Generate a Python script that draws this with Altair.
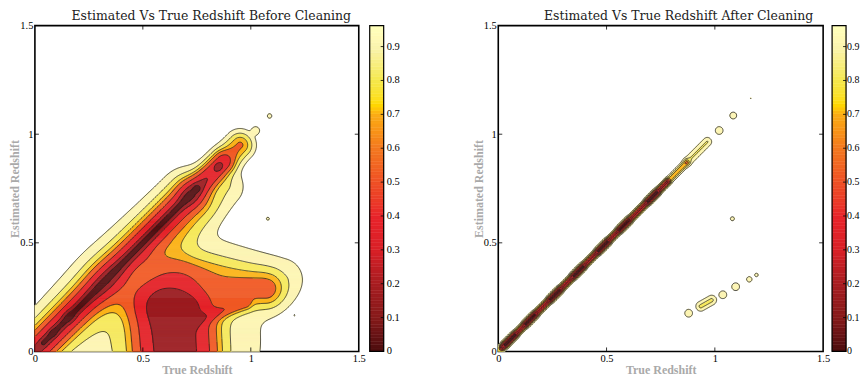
import numpy as np
import pandas as pd
import altair as alt
from collections import defaultdict, deque

alt.data_transformers.disable_max_rows()

# ---------------- values ----------------
AXIS_TICKS = [0, 0.5, 1, 1.5]
FRAME_TICKS = [0.5, 1.0]
LEVELS = [0.1, 0.2, 0.4, 0.6, 0.72, 0.85, 0.95]
BAND_COLORS = ["#531012", "#9b1c20", "#e42228", "#f05a24", "#fbb316", "#f6e95c", "#fdf5b2"]
CB_STOPS = [0.0, 0.1, 0.2, 0.3, 0.4, 0.5, 0.6, 0.7, 0.73, 0.8, 0.9, 0.962]
CB_COLORS = ["#4b0c0c", "#861a1a", "#a81c20", "#d92027", "#e8232a", "#ef5025",
             "#f3781f", "#fbad16", "#ffdc00", "#f5e84a", "#faf4b0", "#ffffff"]
CB_TICKS = [0, 0.1, 0.2, 0.3, 0.4, 0.5, 0.6, 0.7, 0.8, 0.9]
CB_LABELS = ["0", "0.1", "0.2", "0.3", "0.4", "0.5", "0.6", "0.7", "0.8", "0.9"]

TITLE_BEFORE = "Estimated Vs True Redshift Before Cleaning"
TITLE_AFTER = "Estimated Vs True Redshift After Cleaning"

# density components (segment start, segment end, width, weight, shape) - before cleaning
before_x0 = [-0.10, -0.10, 0.02, 0.04, 0.72, 0.64, 0.085, 0.16, 0.75, 0.85, 0.652, 0.60, 0.36, 0.74, 0.70, 0.55, 0.72,
             1.023, 1.087, 1.079, 1.157, 1.077, 1.202]
before_y0 = [-0.10, -0.10, 0.02, 0.04, 0.72, 0.50, 0.085, 0.16, 0.75, 0.85, 0.00, 0.05, 0.30, 0.14, 0.20, 0.40, 0.42,
             1.017, 1.084, 0.611, 0.330, 0.349, 0.167]
before_x1 = [0.70, 0.72, 0.87, 0.72, 0.95, 0.88, 0.085, 0.16, 0.75, 0.85, 0.640, 0.60, 0.55, 0.97, 1.06, 1.08, 1.15,
             1.023, 1.087, 1.079, 1.157, 1.077, 1.202]
before_y1 = [0.70, 0.72, 0.87, 0.72, 0.95, 0.76, 0.085, 0.16, 0.75, 0.85, 0.175, 0.05, 0.24, 0.225, 0.28, 0.29, 0.335,
             1.017, 1.084, 0.611, 0.330, 0.349, 0.167]
before_sig = [0.075, 0.05, 0.03, 0.009, 0.035, 0.055, 0.012, 0.018, 0.012, 0.012, 0.118, 0.25, 0.07, 0.02, 0.05, 0.05, 0.07,
              0.013, 0.009, 0.006, 0.006, 0.003, 0.003]
before_w = [0.22, 0.75, 0.9, 0.8, 0.55, 0.16, 0.6, 0.5, 0.7, 0.8, 1.7, 0.25, 0.38, 0.5, 0.3, 0.33, 0.10,
            0.12, 0.10, 0.09, 0.09, 0.06, 0.06]
before_p = [1, 1, 1, 1, 1, 1, 1, 1, 1, 1, 1.5, 1, 1, 1, 1, 1, 1,
            1, 1, 1, 1, 1, 1]

# after cleaning
after_x0 = [0.02, 0.036, 0.128, 0.242, 0.349, 0.463, 0.562, 0.692, 0.79, 0.875, 0.0,
            1.020, 1.085, 1.166, 1.081, 0.879, 0.935, 1.037, 1.096, 1.159, 1.192]
after_y0 = [0.02, 0.036, 0.128, 0.242, 0.349, 0.463, 0.562, 0.692, 0.79, 0.875, 0.0,
            1.017, 1.086, 1.164, 0.611, 0.176, 0.208, 0.261, 0.298, 0.332, 0.352]
after_x1 = [0.78, 0.076, 0.168, 0.282, 0.389, 0.503, 0.602, 0.732, 0.87, 0.965, 0.03,
            1.020, 1.085, 1.166, 1.081, 0.879, 0.985, 1.037, 1.096, 1.159, 1.192]
after_y1 = [0.78, 0.076, 0.168, 0.282, 0.389, 0.503, 0.602, 0.732, 0.87, 0.965, 0.03,
            1.017, 1.086, 1.164, 0.611, 0.176, 0.236, 0.261, 0.298, 0.332, 0.352]
after_sig = [0.0075, 0.009, 0.009, 0.009, 0.009, 0.009, 0.009, 0.009, 0.009, 0.013, 0.010,
             0.013, 0.012, 0.003, 0.008, 0.013, 0.014, 0.013, 0.013, 0.010, 0.007]
after_w = [1.75, 0.8, 0.8, 0.8, 0.8, 0.8, 0.8, 0.8, 0.45, 0.17, 0.25,
           0.13, 0.12, 0.07, 0.10, 0.13, 0.19, 0.13, 0.13, 0.11, 0.10]
after_p = [1] * len(after_w)

# ---------------- derived grid ----------------
N = 330
XMAX = 1.5
centers = (np.arange(N) + 0.5) * XMAX / N
edges = np.arange(N + 1) * XMAX / N
GX, GY = np.meshgrid(centers, centers)


def field(x0, y0, x1, y1, sig, w, p):
    H = np.zeros_like(GX)
    for a, b, c, d, s, ww, pp in zip(x0, y0, x1, y1, sig, w, p):
        dx, dy = c - a, d - b
        L2 = dx * dx + dy * dy
        if L2 == 0:
            t = 0.0
        else:
            t = np.clip(((GX - a) * dx + (GY - b) * dy) / L2, 0, 1)
        px = a + t * dx
        py = b + t * dy
        d2 = (GX - px) ** 2 + (GY - py) ** 2
        H += ww * np.exp(-(d2 / (2 * s * s)) ** pp)
    return np.exp(-H)


def fill_runs(F):
    band = np.digitize(F, LEVELS)
    rows = []
    for j in range(N):
        r = band[j]
        start = 0
        for i in range(1, N + 1):
            if i == N or r[i] != r[start]:
                if r[start] < len(BAND_COLORS):
                    rows.append((edges[start], edges[i], edges[j], edges[j + 1], int(r[start])))
                start = i
    return pd.DataFrame(rows, columns=["x", "xe", "y", "ye", "band"])


CASES = {1: [("L", "B")], 2: [("B", "R")], 3: [("L", "R")], 4: [("R", "T")],
         6: [("B", "T")], 7: [("L", "T")], 8: [("T", "L")], 9: [("B", "T")],
         11: [("R", "T")], 12: [("L", "R")], 13: [("B", "R")], 14: [("L", "B")]}


def contours(F):
    out = []
    cid = 0
    for lev in LEVELS:
        B = (F > lev).astype(int)
        case = B[:-1, :-1] + 2 * B[:-1, 1:] + 4 * B[1:, 1:] + 8 * B[1:, :-1]
        js, iis = np.nonzero((case > 0) & (case < 15))
        segs = []
        for j, i in zip(js, iis):
            c = case[j, i]
            key = {"B": ("h", j, i), "T": ("h", j + 1, i), "L": ("v", j, i), "R": ("v", j, i + 1)}
            if c in (5, 10):
                center = (F[j, i] + F[j, i + 1] + F[j + 1, i] + F[j + 1, i + 1]) / 4 > lev
                if c == 5:
                    pairs = [("L", "T"), ("B", "R")] if center else [("L", "B"), ("R", "T")]
                else:
                    pairs = [("L", "B"), ("R", "T")] if center else [("B", "R"), ("T", "L")]
            else:
                pairs = CASES[c]
            for a, b in pairs:
                segs.append((key[a], key[b]))
        adj = defaultdict(list)
        for k, (a, b) in enumerate(segs):
            adj[a].append(k)
            adj[b].append(k)
        used = [False] * len(segs)

        def pt(e):
            kind, j, i = e
            if kind == "h":
                f0, f1 = F[j, i], F[j, i + 1]
                t = (lev - f0) / (f1 - f0)
                return centers[i] + t * (centers[i + 1] - centers[i]), centers[j]
            f0, f1 = F[j, i], F[j + 1, i]
            t = (lev - f0) / (f1 - f0)
            return centers[i], centers[j] + t * (centers[j + 1] - centers[j])

        for k in range(len(segs)):
            if used[k]:
                continue
            used[k] = True
            a, b = segs[k]
            path = deque([a, b])
            for direction in (1, 0):
                cur = b if direction else a
                while True:
                    nxt = [s for s in adj[cur] if not used[s]]
                    if not nxt:
                        break
                    s = nxt[0]
                    used[s] = True
                    a2, b2 = segs[s]
                    cur = b2 if a2 == cur else a2
                    if direction:
                        path.append(cur)
                    else:
                        path.appendleft(cur)
            for o, e in enumerate(path):
                x, y = pt(e)
                out.append((round(float(x), 4), round(float(y), 4), cid, o))
            cid += 1
    return pd.DataFrame(out, columns=["x", "y", "cid", "ord"])


PH = 327
SERIF = "Liberation Serif"
xscale = alt.Scale(domain=[0, 1.5], nice=False, zero=False)
yscale = alt.Scale(domain=[0, 1.5], nice=False, zero=False)
band_scale = alt.Scale(domain=list(range(len(BAND_COLORS))), range=BAND_COLORS)


def panel(F, title, width, title_x):
    xa = alt.Axis(values=AXIS_TICKS, format="~g", ticks=False, domain=False, grid=False,
                  labelFont=SERIF, labelFontSize=10.5, labelColor="black", labelPadding=2,
                  labelFlush=False, titleFont=SERIF, titleFontSize=12, titleFontWeight="bold",
                  titleColor="#a9a9a9", titlePadding=1)
    ya = alt.Axis(values=AXIS_TICKS, format="~g", ticks=False, domain=False, grid=False,
                  labelFont=SERIF, labelFontSize=10.5, labelColor="black", labelPadding=2,
                  labelFlush=False, titleFont=SERIF, titleFontSize=12, titleFontWeight="bold",
                  titleColor="#a9a9a9", titlePadding=-2)
    X = lambda f: alt.X(f, scale=xscale, axis=xa, title="True Redshift")
    Y = lambda f: alt.Y(f, scale=yscale, axis=ya, title="Estimated Redshift")
    fills = alt.Chart(fill_runs(F)).mark_rect(strokeWidth=0.5).encode(
        x=X("x:Q"), x2="xe:Q", y=Y("y:Q"), y2="ye:Q",
        fill=alt.Fill("band:O", scale=band_scale, legend=None),
        stroke=alt.Stroke("band:O", scale=band_scale, legend=None))
    lines = alt.Chart(contours(F)).mark_line(strokeWidth=0.75, color="#1e1e1e").encode(
        x=X("x:Q"), y=Y("y:Q"), detail="cid:N", order="ord:Q")
    tdf = pd.DataFrame({"x": FRAME_TICKS, "y": FRAME_TICKS})
    tt = alt.Chart(tdf).mark_rule(color="black", strokeWidth=0.8)
    ticks = [
        tt.encode(x=X("x:Q"), y=alt.value(0), y2=alt.value(4)),
        tt.encode(x=X("x:Q"), y=alt.value(PH - 4), y2=alt.value(PH)),
        tt.encode(y=Y("y:Q"), x=alt.value(0), x2=alt.value(4)),
        tt.encode(y=Y("y:Q"), x=alt.value(width - 4), x2=alt.value(width)),
    ]
    ttl = alt.Chart(pd.DataFrame({"t": [title]})).mark_text(
        font="DejaVu Serif", fontSize=12.5, color="#222222", align="center", baseline="middle"
    ).encode(x=alt.value(title_x), y=alt.value(-10), text="t:N")
    return alt.layer(fills, lines, *ticks, ttl).properties(width=width, height=PH)


def colorbar(width, left, lab_dx, lab_size):
    steps = np.linspace(0, CB_STOPS[-1], 97)
    cdf = pd.DataFrame({"v0": steps[:-1], "v1": steps[1:], "vm": (steps[:-1] + steps[1:]) / 2})
    cs = alt.Scale(domain=[0, CB_STOPS[-1]], nice=False, zero=False)
    cmap = alt.Scale(domain=CB_STOPS, range=CB_COLORS)
    grad = alt.Chart(cdf).mark_rect(strokeWidth=0.5).encode(
        x=alt.value(left), x2=alt.value(left + 14),
        y=alt.Y("v0:Q", scale=cs, axis=None), y2="v1:Q",
        fill=alt.Fill("vm:Q", scale=cmap, legend=None),
        stroke=alt.Stroke("vm:Q", scale=cmap, legend=None))
    frame = alt.Chart(pd.DataFrame({"a": [0]})).mark_rect(fill=None, stroke="black", strokeWidth=1.2).encode(
        x=alt.value(left), x2=alt.value(left + 14), y=alt.value(0), y2=alt.value(PH))
    tdf = pd.DataFrame({"v": CB_TICKS, "lab": CB_LABELS})
    tks = alt.Chart(tdf).mark_rule(color="black", strokeWidth=0.8).encode(
        x=alt.value(left + 11), x2=alt.value(left + 14), y=alt.Y("v:Q", scale=cs, axis=None))
    labs = alt.Chart(tdf).mark_text(align="left", baseline="middle", font=SERIF, fontSize=lab_size,
                                    color="black").encode(
        x=alt.value(left + lab_dx), y=alt.Y("v:Q", scale=cs, axis=None), text="lab:N")
    return alt.layer(grad, frame, tks, labs).properties(
        width=width, height=PH, view=alt.ViewBackground(stroke=None))


F_before = field(before_x0, before_y0, before_x1, before_y1, before_sig, before_w, before_p)
F_after = field(after_x0, after_y0, after_x1, after_y1, after_sig, after_w, after_p)

p1 = panel(F_before, TITLE_BEFORE, 325, 177)
c1 = colorbar(140, 11, 17, 10.5)
p2 = panel(F_after, TITLE_AFTER, 326, 181)
c2 = colorbar(24, 9, 15, 10)

chart = alt.hconcat(p1, c1, p2, c2, spacing=0, bounds="flush").properties(
    padding={"left": 0, "top": 0, "right": 0, "bottom": 0}
).configure_view(stroke="black", strokeWidth=1.6)

chart.save("out.html", embed_options={"renderer": "svg", "actions": False})
